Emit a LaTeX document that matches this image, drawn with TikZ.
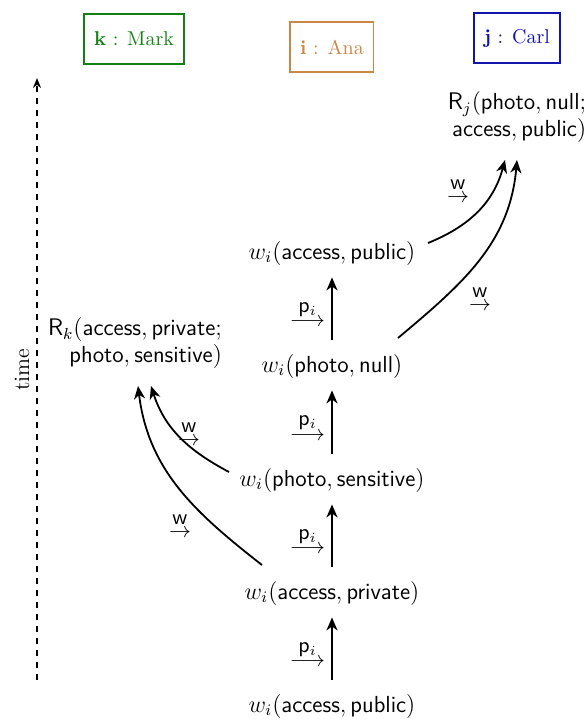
\documentclass[tikz,border=0pt]{standalone}
\usepackage{amsmath}
\usetikzlibrary{arrows.meta,calc}
\definecolor{mkgreen}{RGB}{20,128,20}
\definecolor{anaorange}{RGB}{200,135,70}
\definecolor{carlblue}{RGB}{20,20,170}
\newcommand{\tx}[1]{\text{\sffamily #1}}
\newcommand{\lblarrow}[1]{\ensuremath{\overset{\textstyle #1}{\longrightarrow}}}
\newcommand{\lblarrowshort}[1]{\ensuremath{\overset{\textstyle #1}{\rightarrow}}}
\tikzset{
  agent/.style={draw, line width=0.7pt, inner xsep=5pt, minimum height=25pt},
  evt/.style={inner sep=2pt, font=\fontsize{11.6}{13.6}\selectfont},
  flow/.style={line width=0.9pt, -{Stealth[length=6.5pt,width=5.5pt,inset=2pt]}},
  lbl/.style={inner sep=1pt, font=\fontsize{10.5}{12}\selectfont}
}
\begin{document}
\begin{tikzpicture}[x=0.5pt,y=0.5pt]
\useasboundingbox (0,0) rectangle (588,-720);
% agents
\node[agent, draw=mkgreen, text=mkgreen] (mark) at (134,-39) {\textbf{k} : Mark};
\node[agent, draw=anaorange, text=anaorange] (ana) at (332,-47) {\textbf{i} : Ana};
\node[agent, draw=carlblue, text=carlblue] (carl) at (517,-38) {\textbf{j} : Carl};
% time axis
\coordinate (t0) at (37,-680);
\coordinate (t1) at (37,-78);
\draw[line width=0.7pt, dashed, -{Stealth[length=5pt,width=4pt]}] (t0) -- (t1);
\node[rotate=90, font=\fontsize{11}{13}\selectfont] (time) at (22,-370) {time};
% events of i
\node[evt] (w1) at (332,-706) {$w_i(\tx{access}, \tx{public})$};
\node[evt] (w2) at (332,-593) {$w_i(\tx{access}, \tx{private})$};
\node[evt] (w3) at (332,-480) {$w_i(\tx{photo}, \tx{sensitive})$};
\node[evt] (w4) at (332,-366) {$w_i(\tx{photo}, \tx{null})$};
\node[evt] (w5) at (332,-253) {$w_i(\tx{access}, \tx{public})$};
% receivers
\node[evt, align=right] (Rk) at (135,-343) {$\mathsf{R}_k(\tx{access}, \tx{private};$\\$\tx{photo}, \tx{sensitive})$};
\node[evt, align=right] (Rj) at (517,-117) {$\mathsf{R}_j(\tx{photo}, \tx{null};$\\$\tx{access}, \tx{public})$};
% program order
\foreach \a/\b in {w1/w2, w2/w3, w3/w4, w4/w5}{
  \draw[flow, shorten <=5pt, shorten >=4pt] (\a) -- node[left=2pt, lbl, yshift=-2pt] {\lblarrow{\mathsf{p}_i}} (\b);
}
% writes to k
\draw[flow] ($(w2.center)+(-70,28)$) to[out=142, in=-83] ($(Rk.south)+(3,-13)$);
\draw[flow] ($(w3.center)+(-103,8)$) to[out=152, in=-72] ($(Rk.south)+(16,-13)$);
\node[lbl] (lw1) at (180,-525) {\lblarrowshort{\mathsf{w}}};
\node[lbl] (lw2) at (189,-433) {\lblarrowshort{\mathsf{w}}};
% writes to j
\draw[flow] ($(w5.center)+(96,10)$) to[out=22, in=-105] ($(Rj.south)+(-12,-13)$);
\draw[flow] ($(w4.center)+(66,28)$) to[out=40, in=-95] ($(Rj.south)+(0,-13)$);
\node[lbl] (lw3) at (458,-190) {\lblarrowshort{\mathsf{w}}};
\node[lbl] (lw4) at (480,-298) {\lblarrowshort{\mathsf{w}}};
\end{tikzpicture}
\end{document}
